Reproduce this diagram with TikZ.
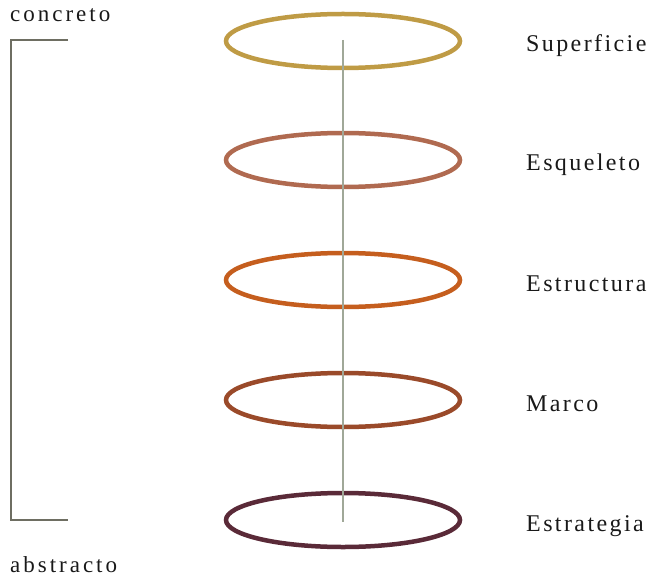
\documentclass[tikz,border=0pt]{standalone}
\usepackage{fontspec}
\setmainfont{Liberation Serif}[LetterSpace=10]
\begin{document}
\begin{tikzpicture}[x=1pt,y=-1pt,
  ring/.style={line width=4.5pt},
  lbl/.style={anchor=base west,inner sep=0pt,font=\fontsize{24}{28}\selectfont,text=black!90},
  side/.style={anchor=base west,inner sep=0pt,font=\addfontfeatures{LetterSpace=13}\fontsize{23}{27}\selectfont,text=black!90}]
\useasboundingbox (0,0) rectangle (652,577);
\definecolor{c1}{HTML}{BF9B45}
\definecolor{c2}{HTML}{B06A50}
\definecolor{c3}{HTML}{C55E1E}
\definecolor{c4}{HTML}{9A4A2A}
\definecolor{c5}{HTML}{5A2A38}
\definecolor{axisc}{HTML}{A0A898}
\definecolor{brack}{HTML}{6E6E62}
\draw[ring,c1] (343,41) ellipse [x radius=117,y radius=27];
\draw[ring,c2] (343,160) ellipse [x radius=117,y radius=27];
\draw[ring,c3] (343,280) ellipse [x radius=117,y radius=27];
\draw[ring,c4] (343,400) ellipse [x radius=117,y radius=27];
\draw[ring,c5] (343,520) ellipse [x radius=117,y radius=27];
\coordinate (atop) at (343,40);
\coordinate (abot) at (343,522);
\draw[axisc,line width=2.5pt] (atop) -- (abot);
\coordinate (b1) at (68,40);
\coordinate (b2) at (11,40);
\coordinate (b3) at (11,520);
\coordinate (b4) at (68,520);
\draw[brack,line width=2.5pt] (b1) -- (b2) -- (b3) -- (b4);
\node[lbl] (l1) at (526,52) {Superficie};
\node[lbl] (l2) at (526,171) {Esqueleto};
\node[lbl] (l3) at (526,291) {Estructura};
\node[lbl] (l4) at (526,411) {Marco};
\node[lbl] (l5) at (526,531) {Estrategia};
\node[side] (cc) at (10,22) {concreto};
\node[side] (ab) at (10,572) {abstracto};
\end{tikzpicture}
\end{document}
